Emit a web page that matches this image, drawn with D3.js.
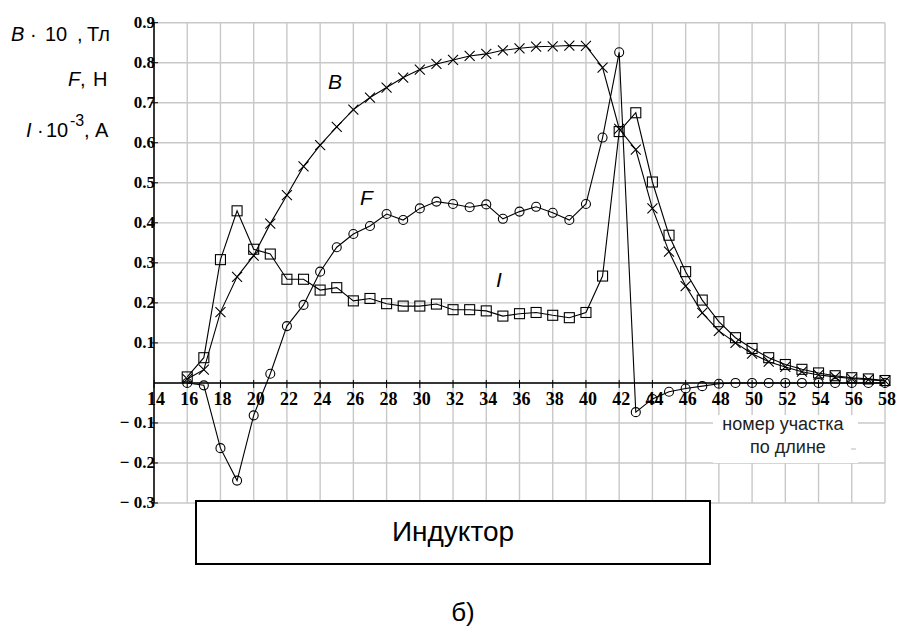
<!DOCTYPE html>
<html>
<head>
<meta charset="utf-8">
<script src="https://cdn.jsdelivr.net/npm/d3@7"></script>
<style>
body { margin: 0; background: #fff; }
svg { display: block; }
.serif { font-family: "Liberation Serif", "DejaVu Serif", serif; }
.sans { font-family: "Liberation Sans", Arial, sans-serif; }
</style>
</head>
<body>
<div id="chart"></div>
<script>
(function(){

var width = 897,
	height = 626;

// section numbers along the inductor
var sections = d3.range(16, 59);

// B*10, Tl
var B = [0.010, 0.033, 0.177, 0.265, 0.318, 0.398, 0.469, 0.541, 0.594, 0.640,
	0.683, 0.713, 0.738, 0.763, 0.783, 0.797, 0.807, 0.817, 0.822, 0.831,
	0.836, 0.840, 0.841, 0.843, 0.842, 0.788, 0.635, 0.583, 0.436, 0.328,
	0.242, 0.175, 0.130, 0.100, 0.073, 0.053, 0.040, 0.028, 0.020, 0.015,
	0.011, 0.008, 0.005];

// I*10^-3, A
var I = [0.015, 0.063, 0.308, 0.430, 0.334, 0.322, 0.259, 0.259, 0.232, 0.238,
	0.205, 0.211, 0.198, 0.192, 0.192, 0.197, 0.183, 0.183, 0.180, 0.167,
	0.173, 0.176, 0.169, 0.163, 0.176, 0.267, 0.628, 0.675, 0.502, 0.369,
	0.278, 0.207, 0.153, 0.113, 0.086, 0.063, 0.046, 0.034, 0.025, 0.018,
	0.013, 0.010, 0.006];

// F, N
var F = [0.000, -0.006, -0.163, -0.244, -0.081, 0.023, 0.142, 0.195, 0.278, 0.339,
	0.372, 0.392, 0.422, 0.407, 0.436, 0.453, 0.447, 0.439, 0.446, 0.410,
	0.428, 0.440, 0.425, 0.407, 0.447, 0.613, 0.826, -0.073, -0.040, -0.022,
	-0.014, -0.008, -0.002, 0.000, 0.000, 0.000, 0.000, 0.000, 0.000, 0.000,
	0.000, 0.000, 0.000];

var xticks = d3.range(14, 59, 2);
var yticks = [0.9, 0.8, 0.7, 0.6, 0.5, 0.4, 0.3, 0.2, 0.1, -0.1, -0.2, -0.3];
var ygrid = d3.range(-3, 10).map(function(d){ return d / 10; });

var X = d3.scaleLinear().domain([14, 58]).range([154, 885]);
var Y = d3.scaleLinear().domain([-0.3, 0.9]).range([503, 22.7]);

var svg = d3.select("#chart").append("svg")
	.attr("width", width)
	.attr("height", height);

var grid = svg.append("g").attr("stroke", "#c8c8c8").attr("stroke-width", 1.4);

grid.selectAll(".hg").data(ygrid).enter().append("line")
	.attr("x1", X(14)).attr("x2", X(58))
	.attr("y1", function(d){ return Y(d); })
	.attr("y2", function(d){ return Y(d); });

grid.selectAll(".vg").data(xticks).enter().append("line")
	.attr("y1", Y(0.9)).attr("y2", Y(-0.3))
	.attr("x1", function(d){ return X(d); })
	.attr("x2", function(d){ return X(d); });

// white patch behind the x axis title
svg.append("rect")
	.attr("x", 713).attr("y", 415)
	.attr("width", 145).attr("height", 48)
	.attr("fill", "#fff");
svg.append("line")
	.attr("x1", 851).attr("x2", 856).attr("y1", 449).attr("y2", 449)
	.attr("stroke", "#bbb");

// axes
svg.append("line")
	.attr("x1", X(14)).attr("x2", X(58)).attr("y1", Y(0)).attr("y2", Y(0))
	.attr("stroke", "#000").attr("stroke-width", 1.5);
svg.append("line")
	.attr("x1", X(14)).attr("x2", X(14)).attr("y1", Y(0.9)).attr("y2", Y(-0.3))
	.attr("stroke", "#000").attr("stroke-width", 1.5);

svg.selectAll(".xt").data(xticks).enter().append("line")
	.attr("x1", function(d){ return X(d); })
	.attr("x2", function(d){ return X(d); })
	.attr("y1", Y(0) - 3).attr("y2", Y(0) + 5)
	.attr("stroke", "#000");

svg.selectAll(".yt").data(yticks).enter().append("line")
	.attr("x1", X(14) - 3).attr("x2", X(14) + 4)
	.attr("y1", function(d){ return Y(d); })
	.attr("y2", function(d){ return Y(d); })
	.attr("stroke", "#000");

svg.selectAll(".xl").data(xticks).enter().append("text")
	.attr("class", "serif")
	.attr("x", function(d){ return X(d) + 2; })
	.attr("y", 405)
	.attr("text-anchor", "middle")
	.attr("font-size", 18)
	.attr("font-weight", "bold")
	.text(function(d){ return d; });

svg.selectAll(".yl").data(yticks).enter().append("text")
	.attr("class", "serif")
	.attr("x", X(14) + 1)
	.attr("y", function(d){ return Y(d) + 5; })
	.attr("text-anchor", "end")
	.attr("font-size", 17)
	.attr("font-weight", "bold")
	.text(function(d){ return d < 0 ? "\u2212 " + Math.abs(d).toFixed(1) : d.toFixed(1); });

// curves
var line = d3.line()
	.x(function(d){ return X(d[0]); })
	.y(function(d){ return Y(d[1]); });

function series(values){
	return sections.map(function(s, i){ return [s, values[i]]; });
}

var curves = svg.append("g").attr("fill", "none").attr("stroke", "#000").attr("stroke-width", 1.1);

curves.append("path").attr("d", line(series(B)));
curves.append("path").attr("d", line(series(I)));
curves.append("path").attr("d", line(series(F)));

curves.selectAll(".cross").data(series(B)).enter().append("path")
	.attr("d", function(d){
		var x = X(d[0]), y = Y(d[1]), s = 5;
		return "M" + (x - s) + "," + (y - s) + "L" + (x + s) + "," + (y + s) +
			"M" + (x - s) + "," + (y + s) + "L" + (x + s) + "," + (y - s);
	});

curves.selectAll(".square").data(series(I)).enter().append("rect")
	.attr("x", function(d){ return X(d[0]) - 5; })
	.attr("y", function(d){ return Y(d[1]) - 5; })
	.attr("width", 10).attr("height", 10);

curves.selectAll(".circle").data(series(F)).enter().append("circle")
	.attr("cx", function(d){ return X(d[0]); })
	.attr("cy", function(d){ return Y(d[1]); })
	.attr("r", 4.5);

// curve names
var names = [
	{t: "B", x: 328, y: 89},
	{t: "F", x: 360, y: 205},
	{t: "I", x: 496, y: 287}
];
svg.selectAll(".nm").data(names).enter().append("text")
	.attr("class", "sans")
	.attr("x", function(d){ return d.x; })
	.attr("y", function(d){ return d.y; })
	.attr("font-style", "italic")
	.attr("font-size", 21)
	.text(function(d){ return d.t; });

// y axis units, pieces spaced like the original
var unitParts = [
	{t: "B", x: 11, y: 41, it: true},
	{t: "\u00b7", x: 30, y: 41},
	{t: "10", x: 45, y: 41},
	{t: ",", x: 77, y: 41},
	{t: "Тл", x: 87, y: 41},
	{t: "F", x: 68, y: 86, it: true},
	{t: ",", x: 80, y: 86},
	{t: "Н", x: 93, y: 86},
	{t: "I", x: 26, y: 137, it: true},
	{t: "\u00b7", x: 37, y: 137},
	{t: "10", x: 46, y: 137},
	{t: "-3", x: 70, y: 126, small: true},
	{t: ",", x: 84, y: 137},
	{t: "A", x: 95, y: 137}
];
svg.selectAll(".unit").data(unitParts).enter().append("text")
	.attr("class", "sans")
	.attr("x", function(d){ return d.x; })
	.attr("y", function(d){ return d.y; })
	.attr("font-size", function(d){ return d.small ? 16 : 20; })
	.attr("font-style", function(d){ return d.it ? "italic" : "normal"; })
	.text(function(d){ return d.t; });

// x axis title
var xt = svg.append("g")
	.attr("class", "sans")
	.attr("font-size", 18)
	.attr("fill", "#222")
	.attr("text-anchor", "middle");
xt.append("text").attr("x", 783).attr("y", 430).text("номер участка");
xt.append("text").attr("x", 788).attr("y", 453).text("по длине");

// inductor box
svg.append("rect")
	.attr("x", 196).attr("y", 501)
	.attr("width", 514).attr("height", 63)
	.attr("fill", "#fff")
	.attr("stroke", "#000")
	.attr("stroke-width", 2);
svg.append("text")
	.attr("class", "sans")
	.attr("x", 453).attr("y", 541)
	.attr("text-anchor", "middle")
	.attr("font-size", 28)
	.text("Индуктор");

svg.append("text")
	.attr("class", "sans")
	.attr("x", 463).attr("y", 621)
	.attr("text-anchor", "middle")
	.attr("font-size", 26)
	.text("б)");

})()
</script>
</body>
</html>
